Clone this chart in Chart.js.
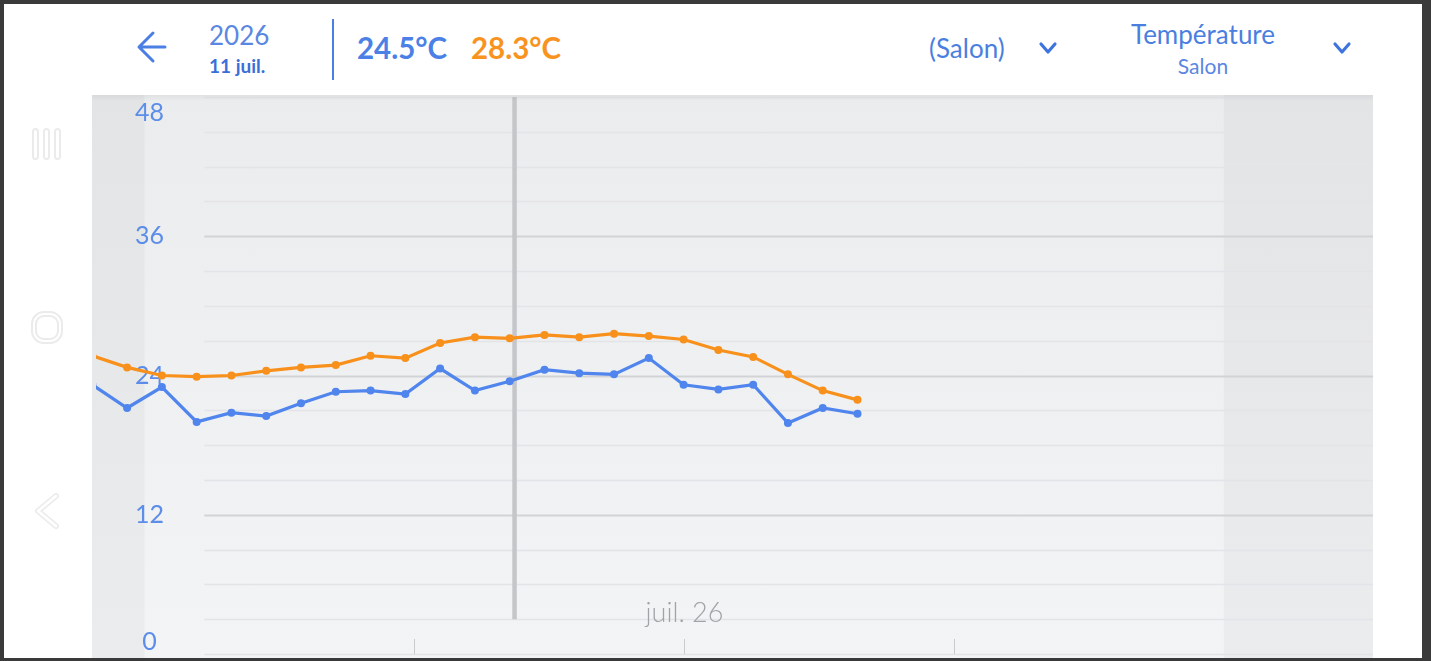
<!DOCTYPE html>
<html><head><meta charset="utf-8">
<script src="https://cdn.jsdelivr.net/npm/chart.js@4.4.0/dist/chart.umd.min.js"></script>
<style>
html,body{margin:0;padding:0;width:1431px;height:661px;overflow:hidden;background:#3a3a3a;font-family:Lato,"Open Sans",sans-serif;}
.abs{position:absolute;white-space:nowrap;}
#app{position:absolute;left:4px;top:4px;width:1418px;height:654px;background:#fff;}
#panel{position:absolute;left:92px;top:93px;width:1281px;height:565px;background:linear-gradient(#ebecee,#f3f4f6);}
#chart{position:absolute;left:92px;top:93px;}
#header{position:absolute;left:4px;top:4px;width:1418px;height:91px;background:#fff;z-index:2;}
#shade{position:absolute;left:92px;top:95px;width:1281px;height:6px;background:linear-gradient(rgba(0,0,0,0.045),rgba(0,0,0,0));z-index:2;}
</style></head>
<body>
<div id="app"></div>
<div id="panel"></div>
<canvas id="chart" width="1281" height="565"></canvas>
<div id="header"></div>
<div id="shade"></div>
<svg class="abs" style="left:0;top:0;z-index:3" width="1431" height="661">
  <path d="M165 47 H139 M153 33 L139 47 L153 61" stroke="#4b7fe3" stroke-width="3" fill="none" stroke-linecap="round" stroke-linejoin="round"/>
  <rect x="332" y="19" width="2" height="61" fill="#4b7fe3"/>
  <path d="M1041 44 L1048 52 L1055 44" stroke="#3f74de" stroke-width="3.2" fill="none" stroke-linecap="round" stroke-linejoin="round"/>
  <path d="M1335 44 L1342 52 L1349 44" stroke="#3f74de" stroke-width="3.2" fill="none" stroke-linecap="round" stroke-linejoin="round"/>
  <g fill="none" stroke="#ebebeb" stroke-width="2">
    <rect x="33" y="129" width="5" height="30" rx="2.5"/>
    <rect x="44" y="129" width="5" height="30" rx="2.5"/>
    <rect x="55" y="129" width="5" height="30" rx="2.5"/>
    <rect x="32" y="312" width="30" height="31" rx="12"/>
    <rect x="36" y="316" width="22" height="23" rx="8"/>
  </g>
  <path d="M56 496 L38 511 L56 526" stroke="#ececec" stroke-width="6" fill="none" stroke-linecap="round" stroke-linejoin="round"/>
  <path d="M56 496 L38 511 L56 526" stroke="#ffffff" stroke-width="2.5" fill="none" stroke-linecap="round" stroke-linejoin="round"/>
</svg>
<div class="abs" style="z-index:3;left:209px;top:19px;font-size:26px;line-height:32px;color:#5a87e2;">2026</div>
<div class="abs" style="z-index:3;left:209px;top:54px;font-size:19px;line-height:24px;font-weight:700;color:#3a6fd8;">11 juil.</div>
<div class="abs" style="z-index:3;left:357px;top:31px;font-size:29.5px;line-height:34px;font-weight:700;color:#4b80e6;">24.5°C</div>
<div class="abs" style="z-index:3;left:471px;top:31px;font-size:29.5px;line-height:34px;font-weight:700;color:#f7931e;">28.3°C</div>
<div class="abs" style="z-index:3;left:929px;top:32px;font-size:26px;line-height:32px;color:#4a7fe0;">(Salon)</div>
<div class="abs" style="z-index:3;left:1103px;width:200px;text-align:center;top:18px;font-size:26px;line-height:32px;color:#4a7fe0;">Température</div>
<div class="abs" style="z-index:3;left:1103px;width:200px;text-align:center;top:53px;font-size:21px;line-height:26px;color:#5a87e2;">Salon</div>
<script>
// ---- data ----
const xPositions = [-1,0,1,2,3,4,5,6,7,8,9,10,11,12,13,14,15,16,17,18,19,20,21];
const blueValues = [23.2,21.2,23.0,20.0,20.8,20.5,21.6,22.6,22.7,22.4,24.6,22.7,23.5,24.5,24.2,24.1,25.5,23.2,22.8,23.2,19.9,21.2,20.7];
const orangeValues = [25.7,24.7,24.0,23.9,24.0,24.4,24.7,24.9,25.7,25.5,26.8,27.3,27.2,27.5,27.3,27.6,27.4,27.1,26.2,25.6,24.1,22.7,21.9];
const yTickLabels = [0,12,24,36,48];
const yGridValues = [0,3,6,9,12,15,18,21,24,27,30,33,36,39,42,45,48];
const xTickValues = [8.25,16,23.76];
const xTickLabels = ['', 'juil. 26', ''];
const crosshairX = 11.14;
const leftBandEnd = 0.5;
const rightBandStart = 31.53;
const gridStartX = 2.22;

const toPts = vals => vals.map((v,i)=>({x:xPositions[i], y:v}));

const overlay = {
  id:'overlay',
  beforeDraw(chart){
    const {ctx, scales:{x,y}} = chart;
    const H = chart.height, W = chart.width;
    ctx.save();
    ctx.fillStyle = 'rgba(60,64,80,0.045)';
    const lb = x.getPixelForValue(leftBandEnd);
    ctx.fillRect(0,0,lb,H);
    const rb = x.getPixelForValue(rightBandStart);
    ctx.fillRect(rb,0,W-rb,H);
    const gx = x.getPixelForValue(gridStartX);
    yGridValues.forEach(v=>{
      const major = (v%12===0 && v>0 && v<48);
      const py = Math.round(y.getPixelForValue(v)) + 0.5;
      ctx.strokeStyle = major ? '#d2d3d6' : '#e3e4e7';
      ctx.lineWidth = major ? 1.8 : 1.3;
      ctx.beginPath();
      ctx.moveTo(gx, py);
      ctx.lineTo(W, py);
      ctx.stroke();
    });
    ctx.restore();
  },
  beforeDatasetsDraw(chart){
    const {ctx, chartArea, scales:{x,y}} = chart;
    ctx.save();
    const cx = x.getPixelForValue(crosshairX);
    ctx.strokeStyle = '#c5c6c9';
    ctx.lineWidth = 4.5;
    ctx.beginPath();
    ctx.moveTo(cx, chartArea.top);
    ctx.lineTo(cx, y.getPixelForValue(3));
    ctx.stroke();
    ctx.fillStyle = '#5b8de9';
    ctx.font = '25px Lato, "Open Sans", sans-serif';
    ctx.textAlign = 'center';
    ctx.textBaseline = 'middle';
    const lx = x.getPixelForValue(leftBandEnd) + 5;
    yTickLabels.forEach(v=>{
      let py = y.getPixelForValue(v);
      py = Math.min(Math.max(py, chartArea.top + 16), chartArea.bottom - 12);
      ctx.fillText(String(v), lx, py);
    });
    ctx.strokeStyle = '#c9cacd';
    ctx.lineWidth = 1;
    ctx.fillStyle = '#a0a3a7';
    ctx.font = '300 27px Lato, "Open Sans", sans-serif';
    xTickValues.forEach((v,i)=>{
      const px = Math.round(x.getPixelForValue(v)) + 0.5;
      ctx.beginPath();
      ctx.moveTo(px, chartArea.bottom - 15);
      ctx.lineTo(px, chartArea.bottom);
      ctx.stroke();
      if (xTickLabels[i]) ctx.fillText(xTickLabels[i], px, y.getPixelForValue(3.55));
    });
    ctx.restore();
  }
};

new Chart(document.getElementById('chart'), {
  type:'line',
  data:{
    datasets:[
      {label:'Salon min', data:toPts(blueValues), borderColor:'#4f85ec', backgroundColor:'#4f85ec',
       borderWidth:3.2, pointRadius:4, pointBorderWidth:0, tension:0},
      {label:'Salon max', data:toPts(orangeValues), borderColor:'#f8901c', backgroundColor:'#f8901c',
       borderWidth:3.2, pointRadius:4, pointBorderWidth:0, tension:0}
    ]
  },
  options:{
    responsive:false, animation:false, devicePixelRatio:1,
    layout:{padding:{left:0,right:0,top:0,bottom:1}},
    plugins:{legend:{display:false}, tooltip:{enabled:false}},
    scales:{
      x:{type:'linear', display:false, min:-0.894, max:35.706},
      y:{type:'linear', display:false, min:0, max:48}
    }
  },
  plugins:[overlay]
});
</script>
</body></html>
